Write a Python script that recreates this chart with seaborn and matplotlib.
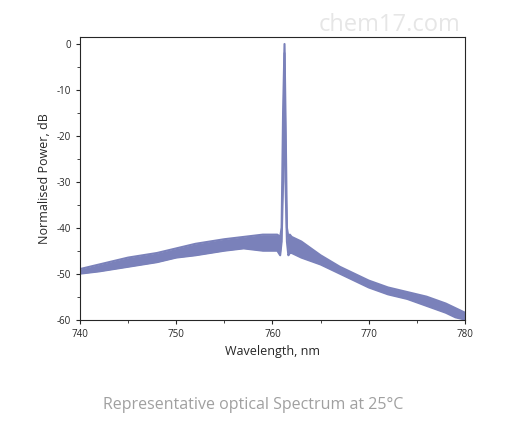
import numpy as np
import pandas as pd
import matplotlib.pyplot as plt
from matplotlib.ticker import MultipleLocator
import seaborn as sns

sns.set_style('ticks')
plt.rcParams['font.family'] = ['Open Sans', 'DejaVu Sans']
plt.rcParams['axes.unicode_minus'] = False

# envelope of the noisy spectrum band
wl = [740, 742, 745, 748, 750, 752, 755, 757, 759, 760.5, 760.8, 760.95, 761.1, 761.25, 761.35,
      761.5, 761.65, 761.8, 762, 763, 765, 767, 769, 770, 772, 774, 776, 778, 779, 780]
upper = [-49, -48, -46.5, -45.5, -44.5, -43.5, -42.5, -42, -41.5, -41.5, -42, -40, -15, 0, -15,
         -40, -42, -41.5, -42, -43, -46, -48.5, -50.5, -51.5, -53, -54, -55, -56.5, -57.5, -58.5]
lower = [-50, -49.5, -48.5, -47.5, -46.5, -46, -45, -44.5, -45, -45, -46, -43, -30, -2, -30,
         -43, -46, -45.5, -45.5, -46.5, -48, -50, -52, -53, -54.5, -55.5, -57, -58.5, -59.5, -60]

color = '#7a81ba'
df = pd.DataFrame({'wl': wl, 'upper': upper, 'lower': lower})

fig = plt.figure(figsize=(5.06, 4.47), dpi=100)
ax = fig.add_axes([0.158, 0.285, 0.761, 0.632])
sns.lineplot(data=df, x='wl', y='upper', ax=ax, color=color, lw=1.5)
sns.lineplot(data=df, x='wl', y='lower', ax=ax, color=color, lw=1.5)
ax.fill_between(df['wl'], df['lower'], df['upper'], color=color, lw=0)

ax.set_xlim(740, 780)
ax.set_ylim(-60, 1.5)
ax.set_xticks([740, 750, 760, 770, 780])
ax.set_yticks([0, -10, -20, -30, -40, -50, -60])
ax.xaxis.set_minor_locator(MultipleLocator(5))
ax.yaxis.set_minor_locator(MultipleLocator(5))
ax.tick_params(labelsize=7, length=3)
ax.tick_params(which='minor', length=2)
ax.set_xlabel('Wavelength, nm', fontsize=9)
ax.set_ylabel('Normalised Power, dB', fontsize=9)
for s in ax.spines.values():
    s.set_linewidth(0.8)

fig.text(0.5, 0.085, 'Representative optical Spectrum at 25°C', ha='center',
         fontsize=11.5, color='#a0a0a0')
fig.text(0.63, 0.93, 'chem17.com', fontsize=17, color='#e6e6e6')

fig.savefig('out.png', dpi=100)
